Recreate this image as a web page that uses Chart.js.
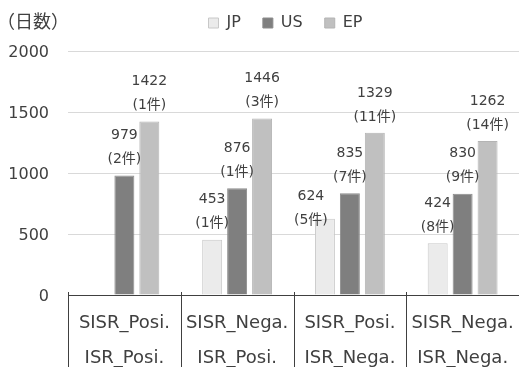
<!DOCTYPE html>
<html>
<head>
<meta charset="utf-8">
<script src="https://cdn.jsdelivr.net/npm/chart.js@4/dist/chart.umd.min.js"></script>
<style>
  html, body { margin: 0; padding: 0; background: #ffffff; }
  #wrap { width: 519px; height: 367px; }
</style>
</head>
<body>
<div id="wrap"><canvas id="c" width="519" height="367"></canvas></div>
<script>
// Category labels (two rows each: SISR result / ISR result)
const categories = [
  ['SISR_Posi.', 'ISR_Posi.'],
  ['SISR_Nega.', 'ISR_Posi.'],
  ['SISR_Posi.', 'ISR_Nega.'],
  ['SISR_Nega.', 'ISR_Nega.']
];
const seriesNames = ['JP', 'US', 'EP'];

// Average number of days per group
const jpDays = [null, 453, 624, 424];
const usDays = [979, 876, 835, 830];
const epDays = [1422, 1446, 1329, 1262];

// Number of cases behind each average
const jpCases = [null, 1, 5, 8];
const usCases = [2, 1, 7, 9];
const epCases = [1, 3, 11, 14];

const yTicks = [0, 500, 1000, 1500, 2000];
const unitLabel = '（日数）';

const TEXT = '#404040';
const FONT = '"DejaVu Sans", "Noto Sans CJK JP", sans-serif';

// Per-label nudges (dataset index -> point index -> [dx, dy])
const labelNudge = { 0: { 2: [-14, 17] } };

// Two-line value labels above each bar: days, then (cases件)
const valueLabels = {
  id: 'valueLabels',
  afterDatasetsDraw(chart) {
    const ctx = chart.ctx;
    ctx.save();
    ctx.font = '14px ' + FONT;
    ctx.fillStyle = TEXT;
    ctx.textAlign = 'center';
    ctx.textBaseline = 'middle';
    chart.data.datasets.forEach((ds, di) => {
      const meta = chart.getDatasetMeta(di);
      meta.data.forEach((bar, i) => {
        const v = ds.data[i];
        if (v == null) return;
        const nudge = (labelNudge[di] && labelNudge[di][i]) || [0, 0];
        const x = bar.x + nudge[0];
        const y = bar.y + nudge[1];
        ctx.fillText(String(v), x, y - 40);
        ctx.fillText('(' + ds.cases[i] + '件)', x, y - 16);
      });
    });
    ctx.restore();
  }
};

// Vertical dividers between categories, running down through the label rows
const categoryDividers = {
  id: 'categoryDividers',
  afterDraw(chart) {
    const xs = chart.scales.x;
    const n = chart.data.labels.length;
    const ctx = chart.ctx;
    ctx.save();
    ctx.strokeStyle = TEXT;
    ctx.lineWidth = 1;
    for (let i = 0; i < n; i++) {
      const px = i === 0 ? xs.left
        : (xs.getPixelForValue(i - 1) + xs.getPixelForValue(i)) / 2;
      const x = Math.round(px) + 0.5;
      ctx.beginPath();
      ctx.moveTo(x, chart.chartArea.bottom - 3);
      ctx.lineTo(x, chart.height);
      ctx.stroke();
    }
    ctx.restore();
  }
};

// Unit caption in the top-left corner
const unitCaption = {
  id: 'unitCaption',
  afterDraw(chart) {
    const ctx = chart.ctx;
    ctx.save();
    ctx.font = '18px "Noto Sans CJK JP", ' + FONT;
    ctx.fillStyle = TEXT;
    ctx.textAlign = 'left';
    ctx.textBaseline = 'middle';
    ctx.fillText(unitLabel, -3, 21);
    ctx.restore();
  }
};

// Give the legend band a fixed height so the plot starts lower
const legendBand = {
  id: 'legendBand',
  afterInit(chart) {
    const lg = chart.legend;
    if (!lg) return;
    const fit = lg.fit.bind(lg);
    lg.fit = function () { fit(); this.height = 58; };
  },
  afterLayout(chart) {
    const lg = chart.legend;
    if (!lg) return;
    lg.left -= 8; lg.right -= 8;
  }
};

new Chart(document.getElementById('c'), {
  type: 'bar',
  data: {
    labels: categories,
    datasets: [
      { label: seriesNames[0], data: jpDays, cases: jpCases,
        backgroundColor: '#ebebeb', borderColor: '#c8c8c8', borderWidth: 1 },
      { label: seriesNames[1], data: usDays, cases: usCases,
        backgroundColor: '#7f7f7f', borderColor: '#8c8c8c', borderWidth: 1 },
      { label: seriesNames[2], data: epDays, cases: epCases,
        backgroundColor: '#c0c0c0', borderColor: '#b4b4b4', borderWidth: 1 }
    ]
  },
  options: {
    responsive: false,
    animation: false,
    devicePixelRatio: 1,
    layout: { padding: { top: -7, left: 0, right: 0, bottom: 0 } },
    datasets: { bar: { categoryPercentage: 0.664, barPercentage: 0.8 } },
    plugins: {
      legend: {
        position: 'top',
        align: 'center',
        fullSize: false,
        labels: {
          boxWidth: 10, boxHeight: 10, padding: 22,
          color: TEXT, font: { family: FONT, size: 16 }
        }
      },
      tooltip: { enabled: false }
    },
    scales: {
      x: {
        grid: { display: false },
        border: { display: true, color: TEXT, width: 1 },
        ticks: {
          color: TEXT, padding: 3, maxRotation: 0, autoSkip: false,
          font: { family: FONT, size: 18, lineHeight: 35 / 18 }
        },
        afterFit(s) { s.height = 72; }
      },
      y: {
        min: 0, max: 2000,
        afterBuildTicks(s) { s.ticks = yTicks.map(v => ({ value: v })); },
        grid: {
          drawTicks: false,
          color: c => (c.tick && c.tick.value === 0) ? 'rgba(0,0,0,0)' : '#d9d9d9',
          lineWidth: 1
        },
        border: { display: false },
        ticks: {
          color: TEXT, padding: 19, labelOffset: 1.5,
          font: { family: FONT, size: 16 },
          callback: v => String(v)
        },
        afterFit(s) { s.width = 68; }
      }
    }
  },
  plugins: [valueLabels, categoryDividers, unitCaption, legendBand]
});
</script>
</body>
</html>
